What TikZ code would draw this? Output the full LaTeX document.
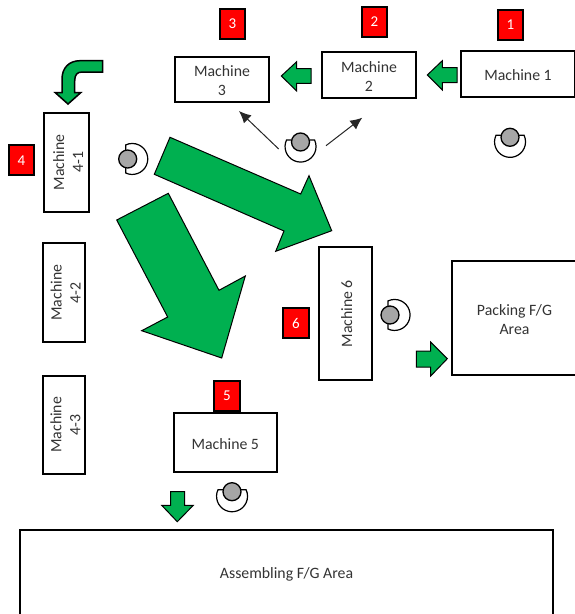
\documentclass[tikz,border=0pt]{standalone}
\usepackage{fontspec}
\setmainfont{Carlito}
\usepackage{tikz}
\usetikzlibrary{arrows.meta}
\definecolor{flowgreen}{HTML}{00B050}

\begin{document}
\begin{tikzpicture}[x=1pt, y=1pt, >={Latex[length=12pt, width=11pt]},
    machine/.style={draw, rectangle, line width=2pt, align=center, inner sep=0pt, text height=14pt, text=black!80, font=\fontsize{15.8}{19}\selectfont},
    twoline/.style={machine, text height=33pt},
    badge/.style={draw, rectangle, line width=2pt, fill=red, inner sep=0pt, minimum width=25.5pt, minimum height=30pt, text=white, font=\fontsize{15}{16}\selectfont},
    flow/.style={draw=black, line width=1pt, fill=flowgreen, line join=miter},
    move/.style={->, line width=1pt, black!85},
    head/.style={draw, circle, line width=1.3pt, fill=black!35, inner sep=0pt, minimum size=18pt},
    operator/.pic={
        \draw[line width=1.2pt, fill=white] (-9,2) -- (-14,2) arc[start angle=155, end angle=385, radius=15.5] -- (9,2);
        \node[head] (-head) at (0,0) {};
    }]
    \useasboundingbox (0,0) rectangle (574,-614);
    % Machines
    \node[machine, minimum width=114pt, minimum height=46.5pt] (m1) at (518, -74) {Machine 1};
    \node[twoline, minimum width=94pt, minimum height=46.5pt] (m2) at (369, -75) {Machine\\2};
    \node[twoline, minimum width=94.5pt, minimum height=45pt] (m3) at (222, -79.3) {Machine\\3};
    \node[twoline, rotate=90, minimum width=98.5pt, minimum height=44.5pt] (m41) at (66.7, -162.3) {Machine\\4-1};
    \node[twoline, rotate=90, minimum width=99.5pt, minimum height=42.5pt] (m42) at (64, -292.7) {Machine\\4-2};
    \node[twoline, rotate=90, minimum width=98.5pt, minimum height=42.5pt] (m43) at (64, -424.8) {Machine\\4-3};
    \node[machine, minimum width=103.5pt, minimum height=58.5pt] (m5) at (225.3, -442.7) {Machine 5};
    \node[machine, rotate=90, minimum width=133.5pt, minimum height=53pt] (m6) at (345.3, -313.7) {Machine 6};
    % F/G areas
    \node[twoline, minimum width=125pt, minimum height=114.5pt] (packing) at (514.5, -317.8) {Packing F/G\\Area};
    \node[machine, minimum width=532.5pt, minimum height=87pt] (assembling) at (286.5, -573) {Assembling F/G Area};
    % Station numbers
    \node[badge] (b1) at (510.3, -25) {1};
    \node[badge] (b2) at (374.3, -22) {2};
    \node[badge] (b3) at (232.5, -23.5) {3};
    \node[badge] (b4) at (21.5, -160.3) {4};
    \node[badge] (b5) at (227, -395.7) {5};
    \node[badge] (b6) at (296, -323) {6};
    % Operators
    \pic (op1) at (510, -137.3) {operator};
    \pic (op2) at (300.5, -142) {operator};
    \pic[rotate=90] (op4) at (127.7, -159) {operator};
    \pic (op5) at (232, -491.7) {operator};
    \pic[rotate=90] (op6) at (390, -315) {operator};
    % Operator moves
    \coordinate (left) at (278.7, -149);
    \coordinate (right) at (326, -145.7);
    \coordinate (toM3) at (239, -111);
    \coordinate (toM2) at (362.3, -117.7);
    \draw[move] (left) -- (toM3);
    \draw[move] (right) -- (toM2);
    % Small flow arrows
    \draw[flow] (457,-67.7) -- (442.3,-67.7) -- (442.3,-60.7) -- (427.3,-75) -- (442.3,-90) -- (442.3,-82.7) -- (457,-82.7) -- cycle;
    \draw[flow] (311,-68.7) -- (296.7,-68.7) -- (296.7,-61.7) -- (281.3,-76) -- (296.7,-91) -- (296.7,-83.3) -- (311,-83.3) -- cycle;
    \draw[flow] (170.7,-491.7) -- (170.7,-505.3) -- (161.7,-505.3) -- (177.3,-521.7) -- (193.3,-505.3) -- (184.7,-505.3) -- (184.7,-491.7) -- cycle;
    \draw[flow] (416.3,-351) -- (430.7,-351) -- (430.7,-342) -- (447.3,-358.7) -- (430.7,-376) -- (430.7,-367) -- (416.3,-367) -- cycle;
    % Bent arrow
    \draw[flow, line width=1.5pt] (102.7,-60.7) -- (80,-60.7) .. controls (69,-60.7) and (62,-68) .. (62,-79) -- (62,-92.7) -- (55.3,-92.7) -- (68,-104) -- (80.7,-92.7) -- (74.7,-92.7) -- (74.7,-81) .. controls (74.7,-75) and (77,-72) .. (82,-72) -- (102.7,-72) -- cycle;
    % Large flow arrows
    \draw[flow] (170,-137.3) -- (300.7,-194) -- (309,-175.7) -- (331.7,-230.7) -- (275.7,-251.3) -- (284,-231) -- (154.3,-174.3) -- cycle;
    \draw[flow] (168.3,-193.3) -- (219,-290.3) -- (245.3,-276) -- (221.7,-358) -- (141.7,-330.7) -- (167.7,-317) -- (116.7,-220) -- cycle;
\end{tikzpicture}
\end{document}
